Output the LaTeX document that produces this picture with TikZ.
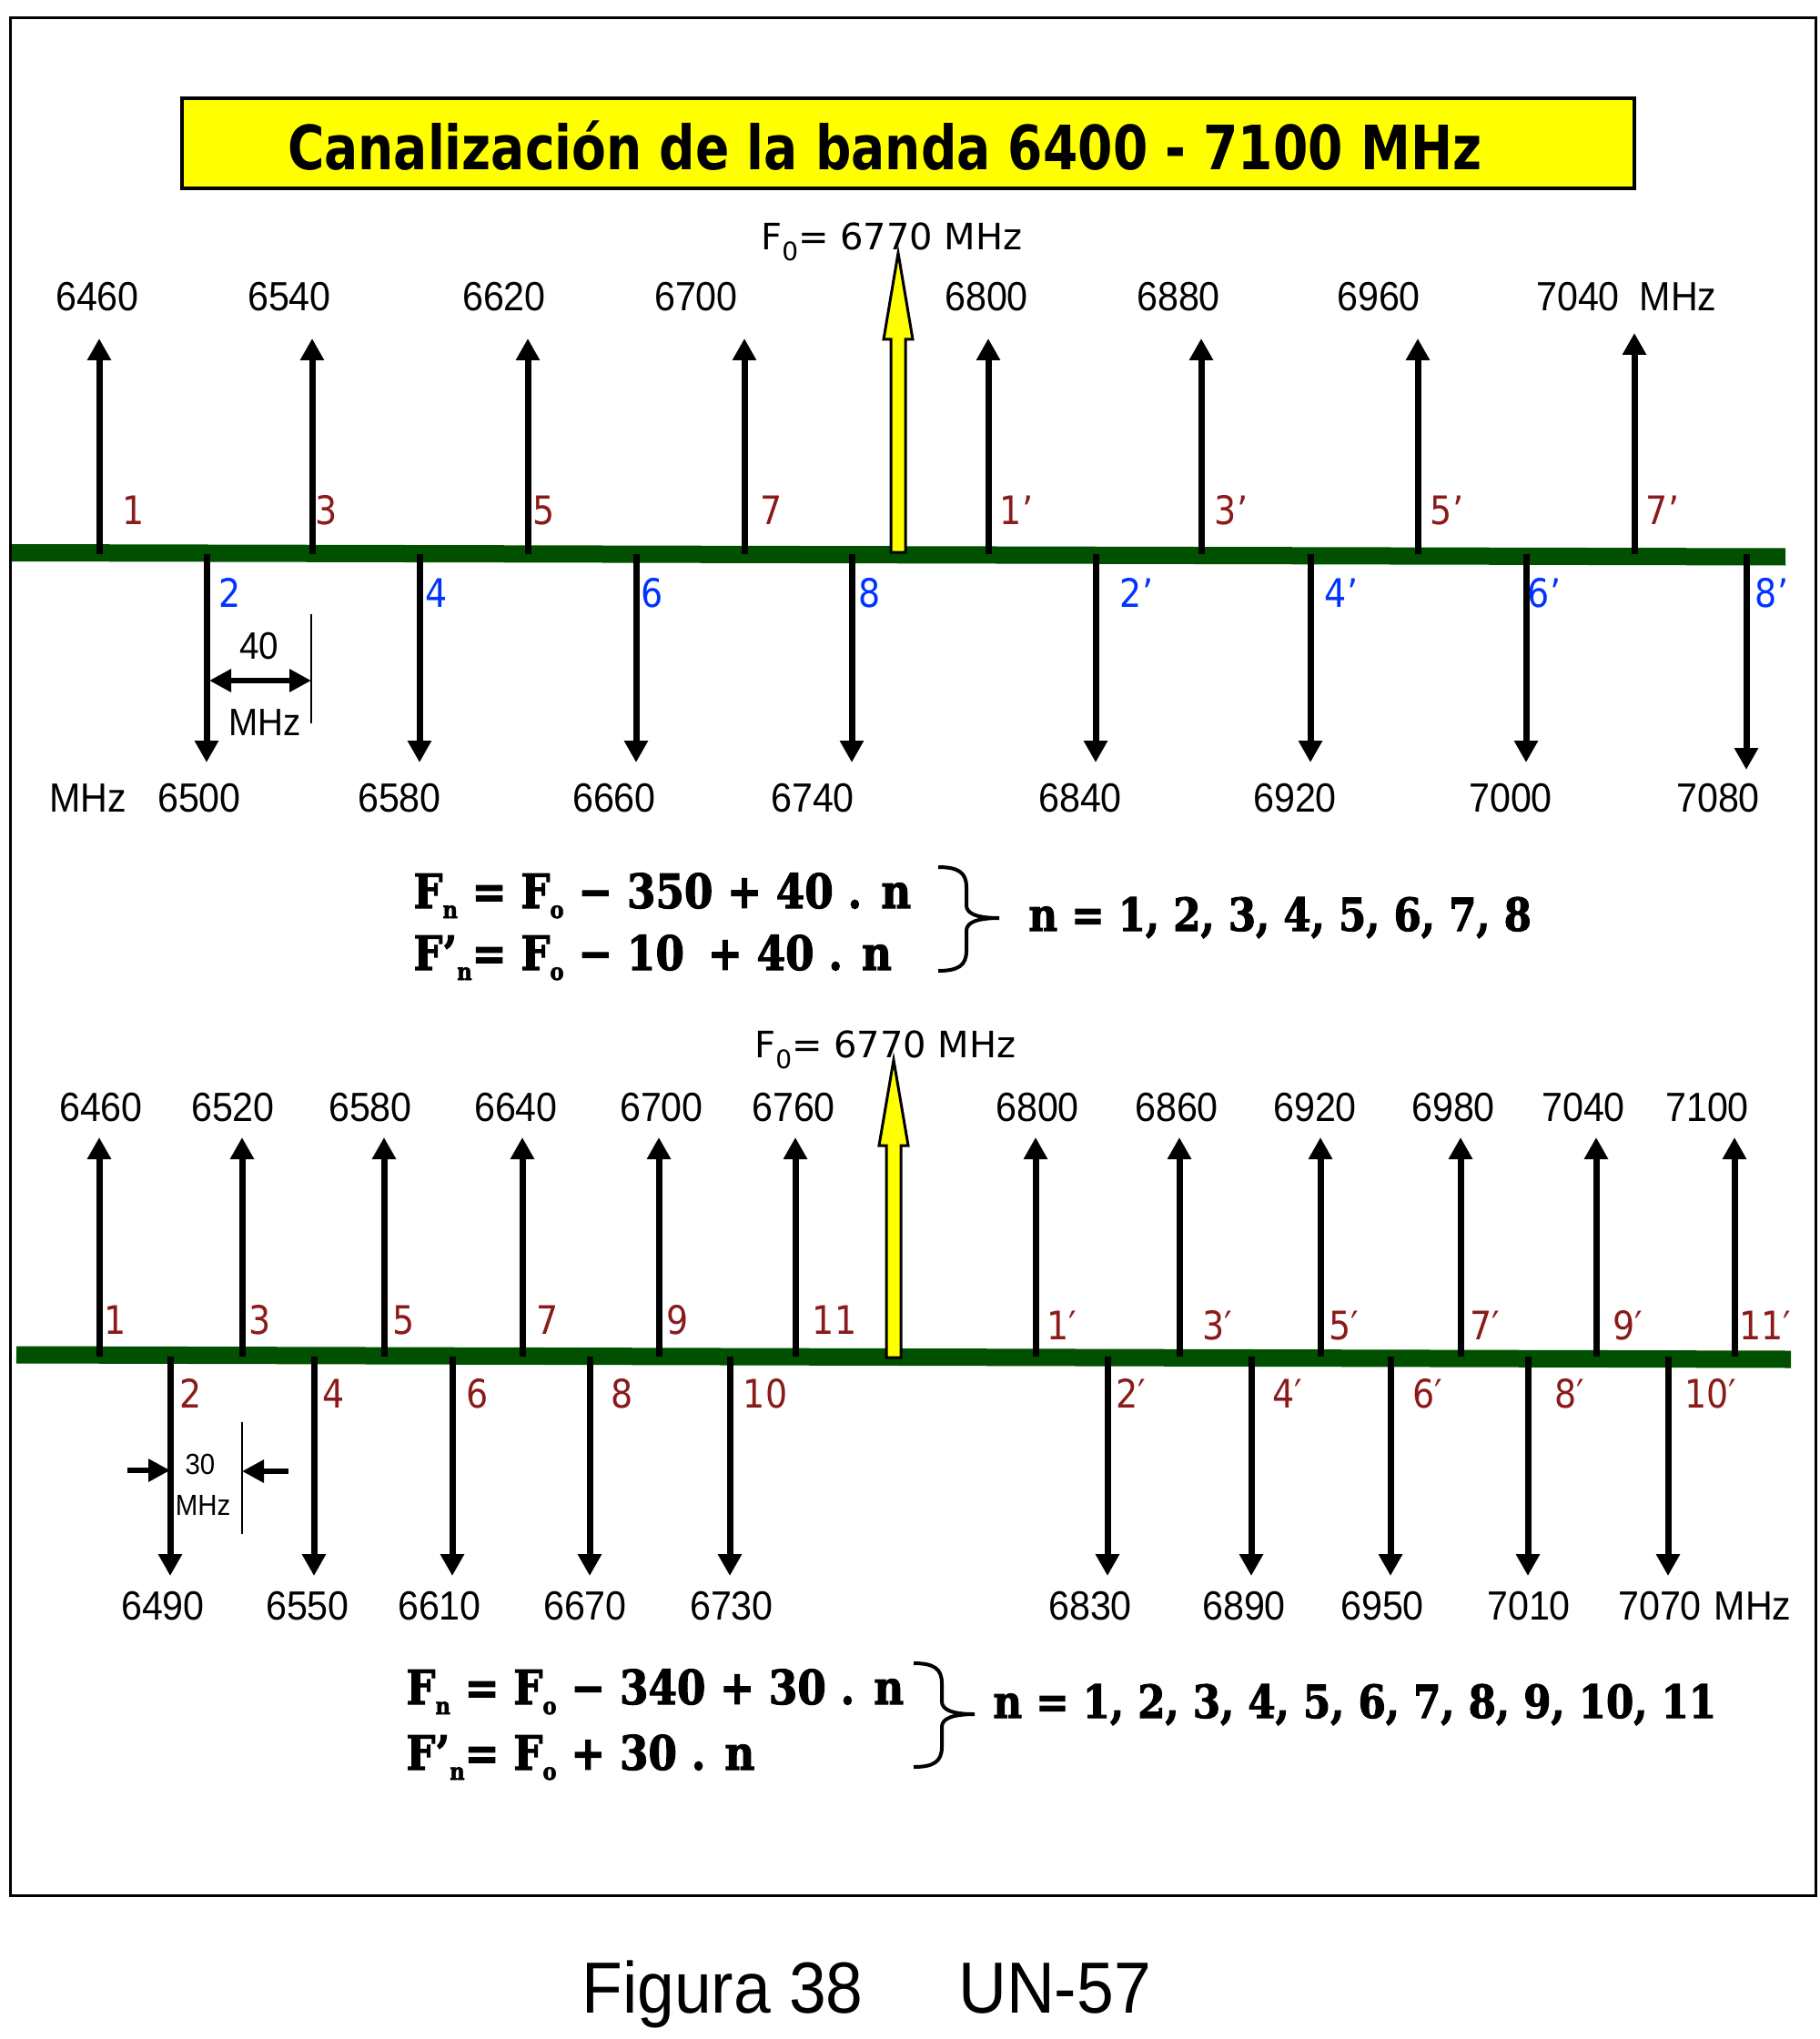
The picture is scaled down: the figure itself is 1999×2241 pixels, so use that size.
\documentclass[tikz,border=0pt]{standalone}
\usepackage{fontspec}
\setmainfont{Liberation Sans}
\newfontfamily\numfont{Liberation Sans}[FakeStretch=0.92]
\newfontfamily\chanfont{DejaVu Sans}[FakeStretch=0.88]
\newfontfamily\fzfont{DejaVu Sans}
\newfontfamily\bannerfont{DejaVu Sans}[FakeStretch=0.82]
\newfontfamily\slabfont{DejaVu Serif Bold}[FakeStretch=0.87,FakeBold=2]
\usetikzlibrary{arrows.meta,positioning}
\definecolor{bandgreen}{HTML}{005000}
\definecolor{chanred}{HTML}{8B1A1A}
\definecolor{chanblue}{HTML}{0033FF}
\definecolor{bannerfill}{HTML}{FFFF00}
\tikzset{
  >={Triangle[length=12pt,width=12.5pt]},
  band/.style={line width=9.5pt,draw=bandgreen},
  chan/.style={->,line width=3.5pt},
  carrier/.style={draw=black,fill=bannerfill,line width=1.5pt,line join=miter},
  dimarrow/.style={-{Triangle[length=12pt,width=12pt]},line width=3pt},
  dimboth/.style={{Triangle[length=12pt,width=12pt]}-{Triangle[length=12pt,width=12pt]},line width=3pt},
  guide/.style={line width=0.9pt},
  freq/.style={font=\numfont\fontsize{22.4}{26}\selectfont,anchor=base,inner sep=0pt},
  chred/.style={font=\chanfont\fontsize{21.6}{25}\selectfont,text=chanred,anchor=base,inner sep=0pt},
  chblue/.style={chred,text=chanblue},
  fzero/.style={font=\fzfont\fontsize{20}{24}\selectfont,anchor=base,inner sep=0pt},
  formula/.style={font=\slabfont\fontsize{26}{30}\selectfont,anchor=base west,inner sep=0pt},
  nlist/.style={formula,font=\slabfont\fontsize{25}{30}\selectfont},
  titlebox/.style={draw=black,fill=bannerfill,line width=2pt,minimum width=798pt,minimum height=49.5pt,inner sep=0pt},
  titletext/.style={font=\bannerfont\bfseries\fontsize{33.6}{38}\selectfont,anchor=base,inner sep=0pt},
  figcap/.style={font=\numfont\fontsize{39.8}{44}\selectfont,anchor=base,inner sep=0pt},
  dimtext/.style={font=\numfont\fontsize{21}{25}\selectfont,anchor=base,inner sep=0pt},
  dimsmall/.style={font=\numfont\fontsize{16}{19}\selectfont,anchor=base,inner sep=0pt},
  rbrace/.pic={\draw[line width=2pt]
    (0,0) .. controls (22,0) and (31,6) .. (31,22) -- (31,42)
    .. controls (31,51) and (42,56) .. (67,56)
    .. controls (42,56) and (31,61) .. (31,70) -- (31,92)
    .. controls (31,108) and (22,114) .. (0,114);},
}
\newcommand{\lowidx}[1]{\raisebox{-5.5pt}{\fontsize{13}{13}\selectfont #1}}
\newcommand{\fzsub}[1]{\raisebox{-6pt}{\fontsize{14}{14}\selectfont #1}}

\begin{document}
\begin{tikzpicture}[x=0.5pt,y=-0.5pt]
  \fill[white] (0,0) rectangle (1999,2241);
  \useasboundingbox (0,0) rectangle (1999,2241);
  \draw[line width=1.5pt] (11,20) rectangle (1995,2083);

  % banner
  \node[titlebox] (banner) at (997.5,157.5) {};
  \node[titletext] (title) at (972,187) {Canalización de la banda 6400 - 7100 MHz};

  % ---- upper plan: 40 MHz spacing ----
  \coordinate (tbarL) at (13,607.5);
  \coordinate (tbarR) at (1962,612);
  \draw[band] (tbarL) -- (tbarR);
  \draw[carrier] (987,278) -- (1003,373) -- (995,373) -- (995,607) -- (979,607)
    -- (979,373) -- (971,373) -- cycle;
  \node[fzero] (tfzero) at (980,275) {F\fzsub{0}= 6770 MHz};

  \foreach \x/\y [count=\i] in {109/372,343/372,580/372,818/372,1086/372,1320/372,1558/372,1796/366}{
    \coordinate (tb\i) at (\x,609);
    \coordinate (tt\i) at (\x,\y);
    \draw[chan] (tb\i) -- (tt\i);
  }
  \foreach \x/\y [count=\i] in {227/838,461/838,699/838,936/838,1204/838,1440/838,1677/838,1919/846}{
    \coordinate (td\i) at (\x,609);
    \coordinate (te\i) at (\x,\y);
    \draw[chan] (td\i) -- (te\i);
  }

  \foreach \x/\t in {107/6460,318/6540,554/6620,765/6700,1084/6800,1295/6880,1515/6960,1734/7040}
    \node[freq] (fu\t) at (\x,342) {\t};
  \node[freq] (fuunit) at (1844,342) {MHz};
  \node[freq] (flunit) at (97,892) {MHz};
  \foreach \x/\t in {219/6500,439/6580,675/6660,893/6740,1187/6840,1423/6920,1660/7000,1888/7080}
    \node[freq] (fl\t) at (\x,892) {\t};

  \foreach \x/\t [count=\i] in {147/1,359/3,598/5,848/7,1117/1’,1353/3’,1590/5’,1827/7’}
    \node[chred] (tr\i) at (\x,576) {\t};
  \foreach \x/\t [count=\i] in {253/2,480/4,717/6,956/8,1249/2’,1474/4’,1697/6’,1947/8’}
    \node[chblue] (tq\i) at (\x,667) {\t};

  % 40 MHz
  \coordinate (wa) at (230,748);
  \coordinate (wb) at (342,748);
  \coordinate (wc) at (342,675);
  \coordinate (wd) at (342,795);
  \draw[guide] (wc) -- (wd);
  \draw[dimboth] (wa) -- (wb);
  \node[dimtext] (wnum) at (285,724) {40};
  \node[dimtext] (wunit) at (291,808) {MHz};

  \node[formula] (ta) at (454,998) {F\lowidx{n} = F\lowidx{o} − 350 + 40 . n};
  \node[formula] (tb) at (454,1066) {F’\lowidx{n}= F\lowidx{o} − 10\enspace + 40 . n};
  \pic at (1031,953) {rbrace};
  \node[nlist] (tn) at (1130,1023) {n = 1, 2, 3, 4, 5, 6, 7, 8};

  % ---- lower plan: 30 MHz spacing ----
  \coordinate (bbarL) at (18,1489);
  \coordinate (bbarR) at (1968,1494);
  \draw[band] (bbarL) -- (bbarR);
  \draw[carrier] (982,1165) -- (998,1259) -- (990,1259) -- (990,1492) -- (974,1492)
    -- (974,1259) -- (966,1259) -- cycle;
  \node[fzero] (bfzero) at (973,1162) {F\fzsub{0}= 6770 MHz};

  \foreach \x [count=\i] in {109,266,422,574,724,874,1138,1296,1451,1605,1754,1906}{
    \coordinate (bb\i) at (\x,1491);
    \coordinate (bt\i) at (\x,1250);
    \draw[chan] (bb\i) -- (bt\i);
  }
  \foreach \x [count=\i] in {187,345,497,648,802,1217,1375,1528,1679,1833}{
    \coordinate (bd\i) at (\x,1491);
    \coordinate (be\i) at (\x,1732);
    \draw[chan] (bd\i) -- (be\i);
  }

  \foreach \x/\t in {111/6460,256/6520,407/6580,567/6640,727/6700,872/6760,1140/6800,1293/6860,1445/6920,1597/6980,1740/7040,1876/7100}
    \node[freq] (gu\t) at (\x,1232) {\t};
  \foreach \x/\t in {179/6490,338/6550,483/6610,643/6670,804/6730,1198/6830,1367/6890,1519/6950,1680/7010,1824/7070}
    \node[freq] (gl\t) at (\x,1780) {\t};
  \node[freq] (glunit) at (1926,1780) {MHz};

  \foreach \x/\t [count=\i] in {127/1,286/3,444/5,602/7,745/9,917/11}
    \node[chred] (br\i) at (\x,1466) {\t};
  \foreach \x/\t [count=\i] in {1167/1′,1338/3′,1477/5′,1632/7′,1789/9′,1940/11′}
    \node[chred] (bp\i) at (\x,1472) {\t};
  \foreach \x/\t [count=\i] in {210/2,367/4,525/6,684/8,841/10,1243/2′,1415/4′,1569/6′,1725/8′,1880/10′}
    \node[chred] (bq\i) at (\x,1547) {\t};

  % 30 MHz
  \coordinate (va) at (140,1616);
  \coordinate (vb) at (187,1616);
  \coordinate (vc) at (317,1617);
  \coordinate (vd) at (266,1617);
  \coordinate (ve) at (266,1563);
  \coordinate (vf) at (266,1686);
  \draw[guide] (ve) -- (vf);
  \draw[dimarrow] (va) -- (vb);
  \draw[dimarrow] (vc) -- (vd);
  \node[dimsmall] (vnum) at (220,1620) {30};
  \node[dimsmall] (vunit) at (223,1665) {MHz};

  \node[formula] (ba) at (446,1873) {F\lowidx{n} = F\lowidx{o} − 340 + 30 . n};
  \node[formula] (bb) at (446,1945) {F’\lowidx{n}= F\lowidx{o} + 30 . n};
  \pic at (1004,1828) {rbrace};
  \node[nlist] (bn) at (1091,1888) {n = 1, 2, 3, 4, 5, 6, 7, 8, 9, 10, 11};

  % caption
  \node[figcap] (figno) at (794,2212) {Figura 38};
  \node[figcap] (figref) at (1159,2212) {UN-57};
\end{tikzpicture}
\end{document}
